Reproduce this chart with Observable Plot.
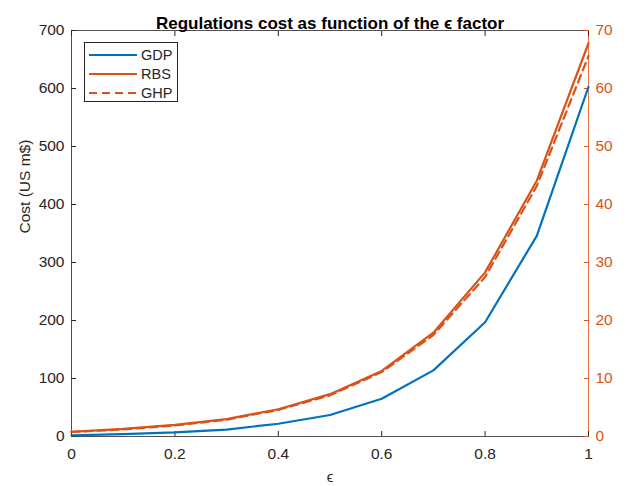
<!DOCTYPE html>
<html><head><meta charset="utf-8">
<script src="https://cdn.jsdelivr.net/npm/d3@7"></script>
<script src="https://cdn.jsdelivr.net/npm/@observablehq/plot@0.6"></script>
<style>
body{margin:0;background:#fff;font-family:"Liberation Sans",Arial,sans-serif;}
#wrap{position:relative;width:627px;height:486px;}
#legend{position:absolute;left:84px;top:42px;width:92px;height:58px;border:1px solid #262626;background:#fff;font-size:14.5px;color:#262626;}
#legend .row{position:absolute;left:4px;height:19px;display:flex;align-items:center;}
#legend svg{margin-right:4px;}
</style></head>
<body><div id="wrap"><div id="chart"></div><div id="legend"></div></div>
<script>
const eps = [0,0.1,0.2,0.3,0.4,0.5,0.6,0.7,0.8,0.9,1.0];
const gdp = [2,4,7,12,22,37,65,114,197,346,603];
const rbs = [0.8,1.3,2.0,3.0,4.7,7.3,11.3,17.9,28.3,44.1,67.8];
const ghp = [0.8,1.2,1.9,2.9,4.6,7.1,11.1,17.5,27.5,43.2,65.6];
const xTicks = [0,0.2,0.4,0.6,0.8,1];
const leftTicks = [0,100,200,300,400,500,600,700];
const rightTicks = [0,10,20,30,40,50,60,70];
const seriesNames = ["GDP","RBS","GHP"];
const blue = "#0072BD", orange = "#D95319", ink = "#262626";

const k = 10; // right axis -> left axis scale factor
const rows = [];
eps.forEach((e,i)=>{
  rows.push({e, v:gdp[i], s:"GDP"});
  rows.push({e, v:rbs[i]*k, s:"RBS"});
  rows.push({e, v:ghp[i]*k, s:"GHP"});
});

const chart = Plot.plot({
  width:627, height:486,
  marginLeft:71, marginRight:39, marginTop:30, marginBottom:50,
  style:{fontFamily:'"Liberation Sans",Arial,sans-serif', fontSize:"15.5px", background:"#fff", color:ink},
  x:{domain:[0,1]},
  y:{domain:[0,700]},
  marks:[
    Plot.ruleY([700],{stroke:ink, strokeWidth:0.8}),
    Plot.ruleY([0],{stroke:ink, strokeWidth:0.8}),
    Plot.ruleX([0],{stroke:ink, strokeWidth:0.8}),
    Plot.ruleX([1],{stroke:orange, strokeWidth:0.8}),
    Plot.axisX({anchor:"bottom", ticks:xTicks, tickSize:-5, tickPadding:16, tickFormat:d=>String(d), stroke:ink, fill:ink, fontSize:15.5, label:null}),
    Plot.axisX({anchor:"top", ticks:xTicks, tickSize:-5, tickFormat:()=>"", stroke:ink, label:null}),
    Plot.axisY({anchor:"left", ticks:leftTicks, tickSize:-5, tickPadding:12, tickFormat:d=>String(d), stroke:ink, fill:ink, fontSize:15.5, label:null}),
    Plot.axisY({anchor:"right", ticks:rightTicks.map(t=>t*k), tickSize:-5, tickPadding:12, tickFormat:d=>String(d/k), stroke:orange, fill:orange, fontSize:15.5, label:null}),
    Plot.line(rows.filter(r=>r.s==="GDP"),{x:"e", y:"v", stroke:blue, strokeWidth:2.2}),
    Plot.line(rows.filter(r=>r.s==="RBS"),{x:"e", y:"v", stroke:orange, strokeWidth:2.2}),
    Plot.line(rows.filter(r=>r.s==="GHP"),{x:"e", y:"v", stroke:orange, strokeWidth:2.2, strokeDasharray:"8,5"}),
    Plot.text(["Regulations cost as function of the ϵ factor"],{text:d=>d, frameAnchor:"top", dy:-14, fontWeight:"bold", fontSize:17, fill:"#000"}),
    Plot.text(["Cost (US m$)"],{text:d=>d, frameAnchor:"left", dx:-46, rotate:-90, fontSize:15.5, fill:ink}),
    Plot.text(["ϵ"],{text:d=>d, frameAnchor:"bottom", dy:45, fontSize:15, fill:ink})
  ]
});
document.getElementById("chart").appendChild(chart);

const styles = {GDP:{c:blue,d:""}, RBS:{c:orange,d:""}, GHP:{c:orange,d:"8,5"}};
const leg = document.getElementById("legend");
seriesNames.forEach((n,i)=>{
  const row = document.createElement("div");
  row.className="row"; row.style.top = (2+i*19)+"px";
  row.innerHTML = `<svg width="48" height="10"><line x1="0" x2="48" y1="5" y2="5" stroke="${styles[n].c}" stroke-width="2.2" ${styles[n].d?`stroke-dasharray="${styles[n].d}"`:""}/></svg><span>${n}</span>`;
  leg.appendChild(row);
});
</script></body></html>
